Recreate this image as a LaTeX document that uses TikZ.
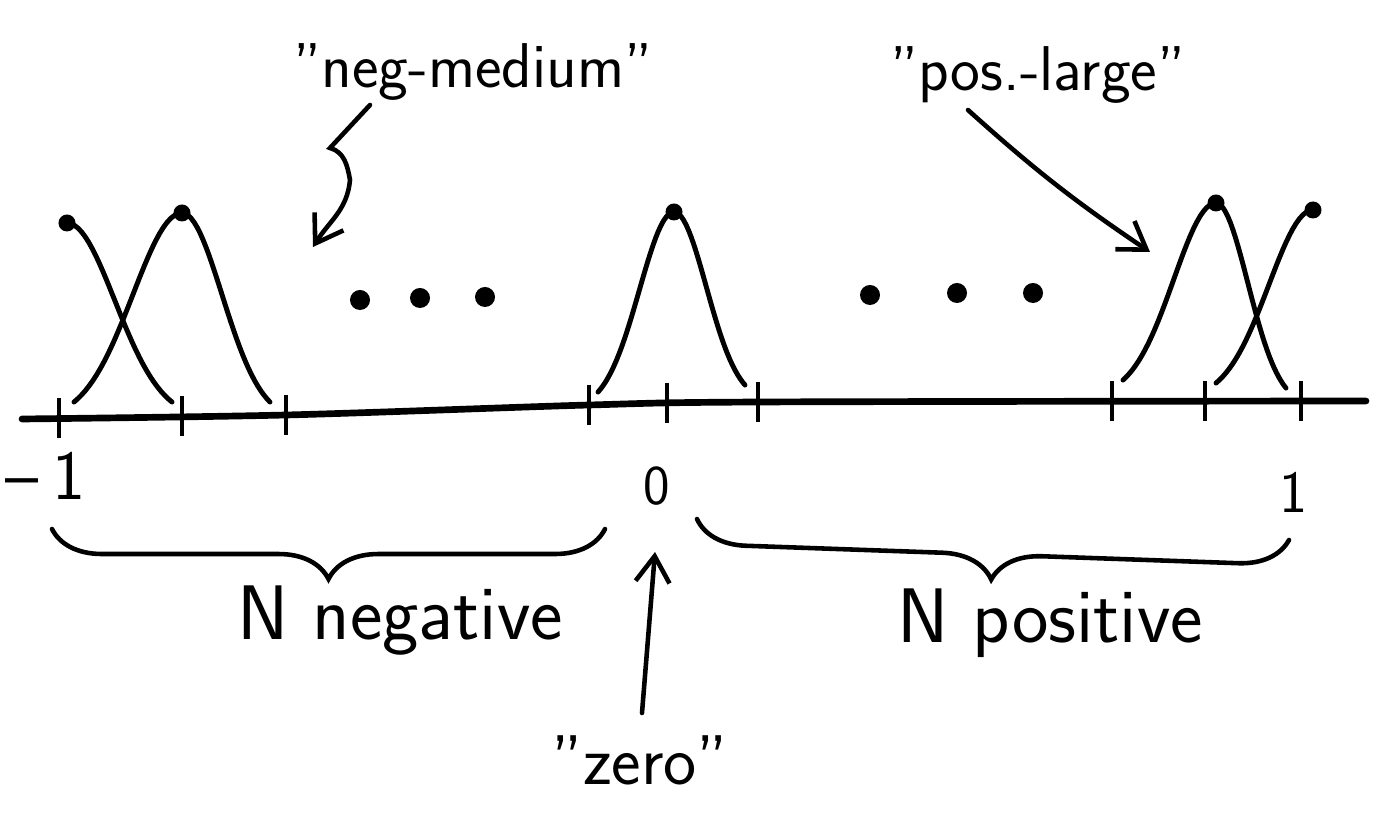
\documentclass[tikz,border=0pt]{standalone}
\usepackage{tikz}
\usetikzlibrary{arrows.meta,decorations.pathreplacing,calc}
\colorlet{sketchInk}{black}
\tikzset{
  >=Latex,
  font=\sffamily,
  % one ink colour, pen widths imitate the hand-drawn sketch
  axisline/.style={
    line width=1.9pt,
    draw=sketchInk,
    line cap=round
  },
  tickmark/.style={
    line width=1pt,
    draw=sketchInk
  },
  bellcurve/.style={
    line width=1.4pt,
    draw=sketchInk,
    line cap=round
  },
  inkdot/.style={
    fill=sketchInk
  },
  handlabel/.style={
    font=\sffamily\fontsize{#1}{24}\selectfont,
    text=sketchInk,
    inner sep=0pt
  },
  handlabel/.default=18,
  sidelabel/.style={
    font=\sffamily\fontsize{22}{26}\selectfont,
    text=sketchInk,
    inner sep=0pt
  },
  bracket/.style={
    decorate,
    decoration={brace, mirror, amplitude=5mm},
    line width=1.3pt,
    draw=sketchInk,
    line cap=round
  },
  arrow/.style={
    -{Straight Barb[length=2.6mm,width=3.4mm]},
    line width=1.3pt,
    draw=sketchInk,
    line cap=round
  }
}

\begin{document}
\begin{tikzpicture}[x=0.01cm,y=-0.01cm]
\useasboundingbox (0,0) rectangle (1381,840);

% axis with ticks
\draw[axisline] plot[smooth] coordinates {(22,419) (286,415) (589,405) (760,402) (1366,401)};
\foreach \tx/\ty in {59/418,182/416,286/415,589/405,667/403,758/402,1112/401,1205/401,1301/401}
  \draw[tickmark] (\tx,{\ty-20}) -- (\tx,{\ty+20});

% membership bells, one half at a time: centre/peak/half-width/end
\foreach \c/\p/\d/\e in {67/223/105/402,182/213/-108/402,182/213/88/402,674/212/-76/392,
                         674/212/71/385,1216/203/-93/380,1216/203/70/388,1313/210/-97/383}
  \draw[bellcurve] plot[domain=0:\d, samples=30]
    ({\c+\x}, {\p+(\e-\p)*1.098*(1-exp(-2.42*(\x/\d)^2))});
\foreach \c/\p in {67/223,182/213,674/212,1216/203,1313/210}
  \fill[inkdot] (\c,\p) circle[radius=0.85mm];

% ellipsis dots
\foreach \c/\p in {360/300,420/298,485/297,870/295,957/293,1033/293}
  \fill[inkdot] (\c,\p) circle[radius=1mm];

% labels
\node[handlabel, anchor=base] (negmed) at (473,88) {"neg-medium"};
\node[handlabel, anchor=base] (poslarge) at (1038,91) {"pos.-large"};
\node[handlabel=20, anchor=base] (minusone) at (46,500) {\textendash\hspace{0.2em}1};
\node[handlabel=16, anchor=base] (origin) at (657,505) {0};
\node[handlabel=17, anchor=base] (plusone) at (1294,513) {1};
\node[sidelabel, anchor=base] (negside) at (400,640) {N negative};
\node[sidelabel, anchor=base] (posside) at (1050,643) {N positive};
\node[handlabel=20, anchor=base] (zeroname) at (640,785) {"zero"};

% braces
\coordinate (negL) at (52,529);
\coordinate (negR) at (605,529);
\coordinate (posL) at (697,519);
\coordinate (posR) at (1289,540);
\draw[bracket] (negL) -- (negR);
\draw[bracket] (posL) -- (posR);

% pointers
\coordinate (nmtail) at (370,105);
\coordinate (nmhead) at (313,247);
\coordinate (pltail) at (968,110);
\coordinate (plhead) at (1150,252);
\coordinate (zerotail) at (642,713);
\coordinate (zerohead) at (655,552);
\draw[arrow] (nmtail) -- (330,148) to[out=-15,in=100] (350,180) to[out=-95,in=58] (nmhead);
\draw[arrow] (pltail) to[bend right=4] (plhead);
\draw[arrow] (zerotail) -- (zerohead);

\end{tikzpicture}
\end{document}
